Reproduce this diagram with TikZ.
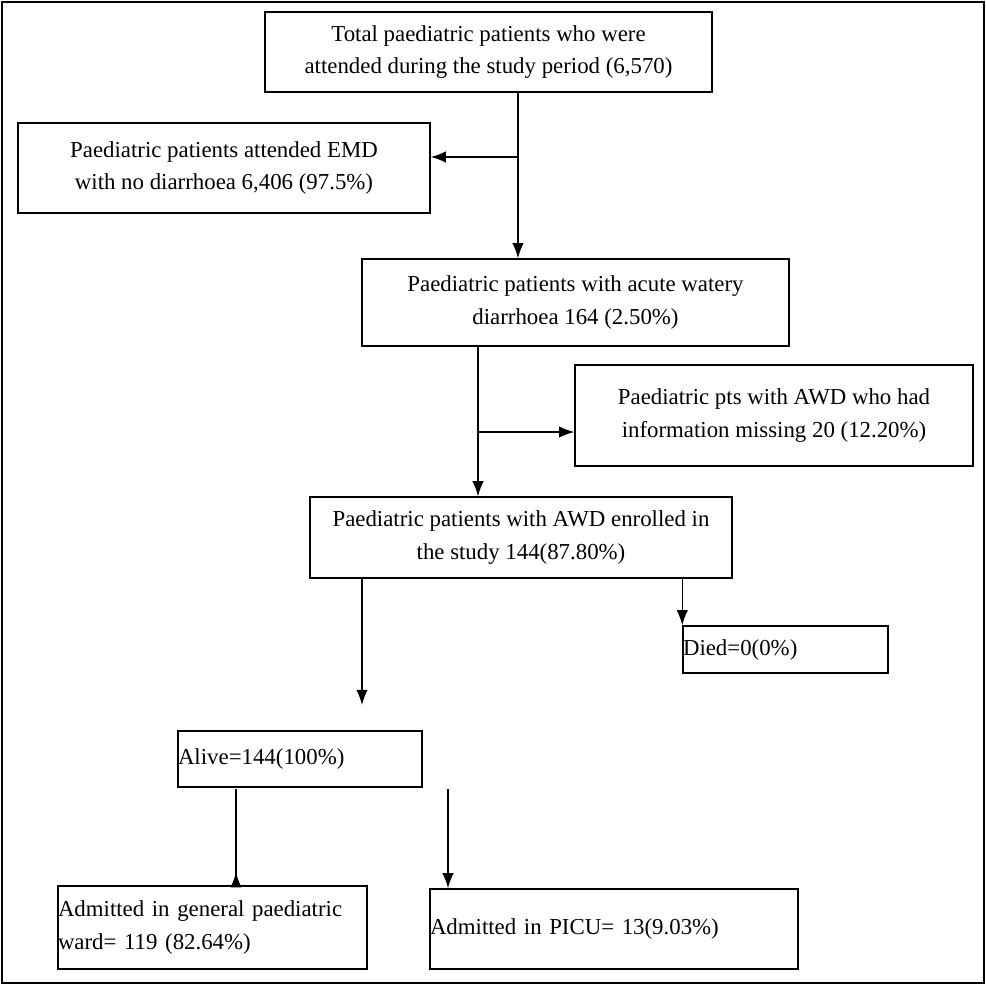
\documentclass[tikz,border=0pt]{standalone}
\usepackage{fontspec}
\setmainfont{Liberation Serif}
\usetikzlibrary{arrows.meta}

\begin{document}
\begin{tikzpicture}[x=0.02cm, y=-0.02cm,
    box/.style={draw, thick, rectangle, inner sep=0pt, align=center,
        font=\fontsize{13}{18.5}\selectfont},
    lbox/.style={box, align=left},
    arr/.style={thick, -{Latex[scale=1.3]}}]
    \useasboundingbox (0,0) rectangle (986,985);
    \draw[thick] (2,2) rectangle (984,983);

    \node[box, minimum width=447*0.02cm, minimum height=80*0.02cm] (total) at (488.5,52) {Total paediatric patients who were\\attended during the study period (6,570)};
    \node[box, minimum width=412*0.02cm, minimum height=90*0.02cm] (nodia) at (224,168) {Paediatric patients attended EMD\\with no diarrhoea 6,406 (97.5\%)};
    \node[box, minimum width=427*0.02cm, minimum height=87*0.02cm] (awd) at (575.5,302.5) {Paediatric patients with acute watery\\diarrhoea 164 (2.50\%)};
    \node[box, minimum width=398*0.02cm, minimum height=101*0.02cm] (missing) at (774,415.5) {Paediatric pts with AWD who had\\information missing 20 (12.20\%)};
    \node[box, minimum width=422*0.02cm, minimum height=81*0.02cm] (enrolled) at (521,537.5) {Paediatric patients with AWD enrolled in\\the study 144(87.80\%)};
    \node[lbox, text width=205*0.02cm, minimum height=47*0.02cm] (died) at (785.5,649.5) {Died=0(0\%)};
    \node[lbox, text width=244*0.02cm, minimum height=56*0.02cm] (alive) at (300,759) {Alive=144(100\%)};
    \node[lbox, text width=309*0.02cm, minimum height=83*0.02cm] (ward) at (212.5,927.5) {Admitted in general paediatric\\ward= 119 (82.64\%)};
    \node[lbox, text width=368*0.02cm, minimum height=80*0.02cm] (picu) at (614,929) {Admitted in PICU= 13(9.03\%)};

    \coordinate (b1) at (518,157);
    \coordinate (b2) at (478,432);
    \coordinate (a1) at (362,705);
    \coordinate (s1) at (236,789);
    \coordinate (s2) at (448,789);

    \draw[arr] (total.south -| b1) -- (awd.north -| b1);
    \draw[arr] (b1) -- (nodia.east |- b1);
    \draw[arr] (awd.south -| b2) -- (enrolled.north -| b2);
    \draw[arr] (b2) -- (missing.west |- b2);
    \draw[arr] (enrolled.south -| a1) -- (a1);
    \draw[arr] (enrolled.south -| died.170) -- (died.170 |- died.north);
    \draw[arr] (s1) -- (ward.north -| s1) ++(0,-13);
    \draw[arr] (s2) -- (picu.north -| s2);
\end{tikzpicture}
\end{document}
